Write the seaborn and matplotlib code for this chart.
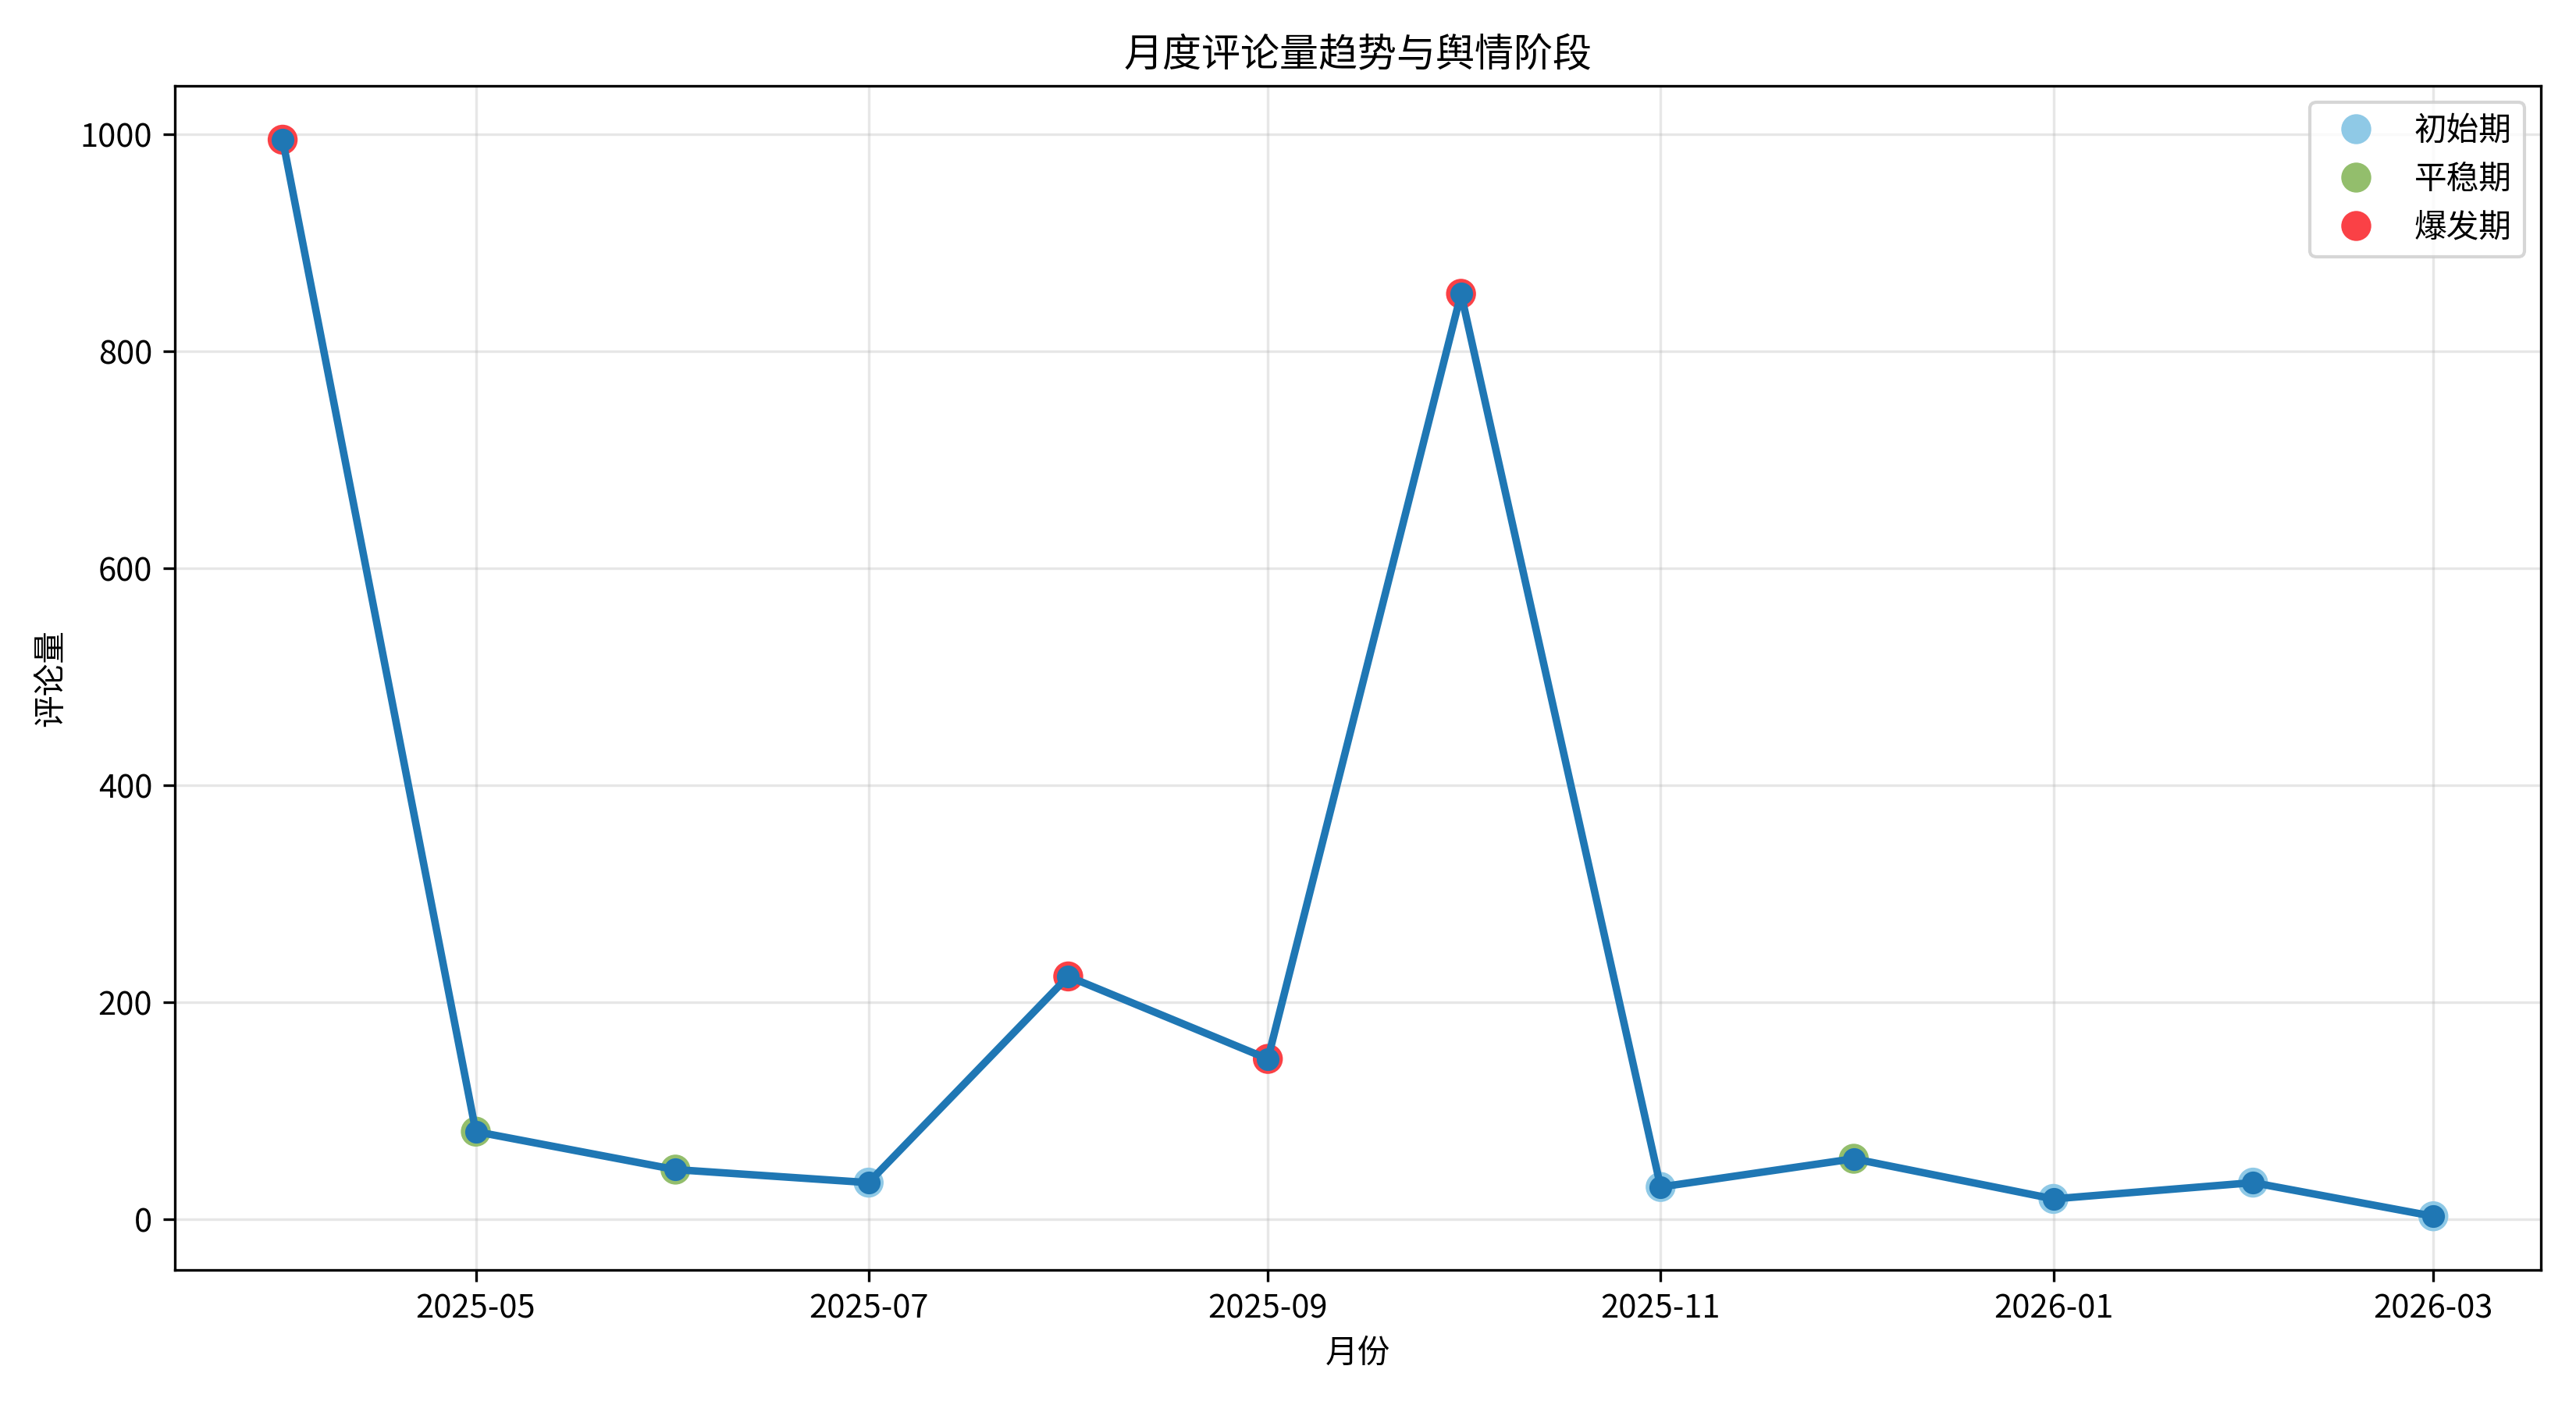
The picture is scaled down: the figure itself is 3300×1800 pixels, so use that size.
import matplotlib
matplotlib.use("Agg")
import matplotlib.pyplot as plt
import pandas as pd
import seaborn as sns

months = ["2025-04", "2025-05", "2025-06", "2025-07", "2025-08", "2025-09",
          "2025-10", "2025-11", "2025-12", "2026-01", "2026-02", "2026-03"]
comments = [995, 81, 46, 34, 224, 148, 853, 30, 56, 19, 34, 3]
phases = ["爆发期", "平稳期", "平稳期", "初始期", "爆发期", "爆发期",
          "爆发期", "初始期", "平稳期", "初始期", "初始期", "初始期"]
phase_order = ["初始期", "平稳期", "爆发期"]
phase_colors = ["#8FC9E6", "#93BE6C", "#FA4146"]


def main() -> None:
    sns.set_style("ticks", rc={
        "text.color": "black",
        "axes.labelcolor": "black",
        "xtick.color": "black",
        "ytick.color": "black",
        "axes.edgecolor": "black",
        "grid.color": "#b0b0b0",
    })
    plt.rcParams["font.family"] = ["Noto Sans CJK SC", "DejaVu Sans"]
    plt.rcParams["axes.unicode_minus"] = False

    df = pd.DataFrame({
        "month": pd.to_datetime(months),
        "comments": comments,
        "phase": pd.Categorical(phases, categories=phase_order, ordered=True),
    })

    fig, ax = plt.subplots(figsize=(11, 6), dpi=300)

    sns.scatterplot(
        data=df, x="month", y="comments", hue="phase",
        hue_order=phase_order, palette=phase_colors,
        s=85, linewidth=0, zorder=2, ax=ax,
    )
    sns.lineplot(
        data=df, x="month", y="comments", color="#1f77b4",
        marker="o", markersize=7, markeredgewidth=0, linewidth=2.3,
        zorder=3, ax=ax,
    )

    ax.set_title("月度评论量趋势与舆情阶段", fontsize=12)
    ax.set_xlabel("月份")
    ax.set_ylabel("评论量")
    ax.grid(True, alpha=0.3)
    for spine in ax.spines.values():
        spine.set_visible(True)
    ax.legend(title=None, loc="upper right")

    fig.tight_layout()
    fig.savefig("out.png", dpi=300)
    plt.close(fig)


if __name__ == "__main__":
    main()
